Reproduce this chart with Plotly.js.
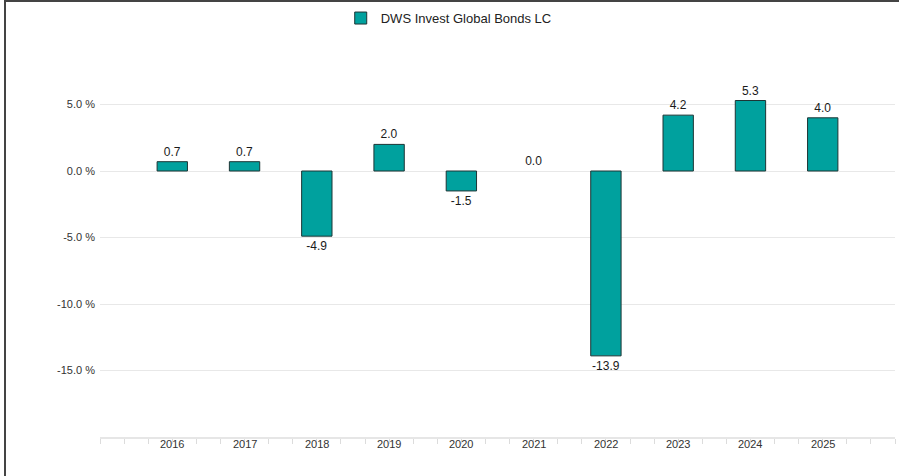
<!DOCTYPE html>
<html>
<head>
<meta charset="utf-8">
<script src="https://cdn.plot.ly/plotly-3.0.1.min.js"></script>
<style>
  html, body { margin: 0; padding: 0; background: #fff; }
  #wrap { position: relative; width: 899px; height: 476px; overflow: hidden; }
  #frame { position: absolute; left: 4px; top: 0; width: 895px; height: 476px;
           border-left: 2px solid #444; border-top: 2px solid #444; box-sizing: border-box; pointer-events: none; }
  #chart { position: absolute; left: 0; top: 0; width: 899px; height: 476px; }
</style>
</head>
<body>
<div id="wrap">
  <div id="chart"></div>
  <div id="frame"></div>
</div>
<script>
const years = [2016, 2017, 2018, 2019, 2020, 2021, 2022, 2023, 2024, 2025];
const values = [0.7, 0.7, -4.9, 2.0, -1.5, 0.0, -13.9, 4.2, 5.3, 4.0];
const seriesName = 'DWS Invest Global Bonds LC';
const yTickVals = [-15, -10, -5, 0, 5];
const yTickText = yTickVals.map(v => v.toFixed(1) + ' %');

const FONT = 'Arial, Liberation Sans, sans-serif';

const trace = {
  type: 'bar',
  name: seriesName,
  x: years,
  y: values,
  width: 0.42,
  marker: { color: '#00A19E', line: { color: '#1d3535', width: values.map(v => v === 0 ? 0 : 1) } },
  text: values.map(v => v.toFixed(1)),
  textposition: 'outside',
  cliponaxis: false,
  textfont: { family: FONT, size: 12, color: '#1a1a1a' },
  hoverinfo: 'none'
};

const yearAnnotations = years.map(yr => ({
  x: yr, xref: 'x', y: 0, yref: 'paper',
  yanchor: 'middle', yshift: -7, showarrow: false,
  text: String(yr), font: { family: FONT, size: 11, color: '#333' }
}));

const layout = {
  width: 899, height: 476,
  margin: { l: 100, r: 4, t: 38, b: 39 },
  paper_bgcolor: '#fff', plot_bgcolor: '#fff',
  font: { family: FONT, size: 11, color: '#333' },
  showlegend: true,
  legend: {
    orientation: 'h', xref: 'container', x: 0.379, xanchor: 'left',
    yref: 'container', y: 0.962, yanchor: 'middle',
    font: { family: FONT, size: 13, color: '#222' }
  },
  xaxis: {
    type: 'linear',
    range: [2015, 2026],
    tickvals: years,
    showticklabels: false,
    ticks: '', showgrid: false, zeroline: false,
    showline: true, linecolor: '#e6e6e6', linewidth: 2,
    minor: { dtick: 1/3, tick0: 2015, ticks: 'outside', ticklen: 5, tickcolor: '#dcdcdc', tickwidth: 1, showgrid: false }
  },
  yaxis: {
    range: [-20, 10],
    tickvals: yTickVals.concat([10]),
    ticktext: yTickText.concat(['']),
    showgrid: true, gridcolor: '#e8e8e8', gridwidth: 1,
    zeroline: false, showline: false, ticks: '',
    ticklabelstandoff: 4,
    tickfont: { family: FONT, size: 11, color: '#333' }
  },
  annotations: yearAnnotations
};

Plotly.newPlot('chart', [trace], layout, { displayModeBar: false, staticPlot: true });
</script>
</body>
</html>
